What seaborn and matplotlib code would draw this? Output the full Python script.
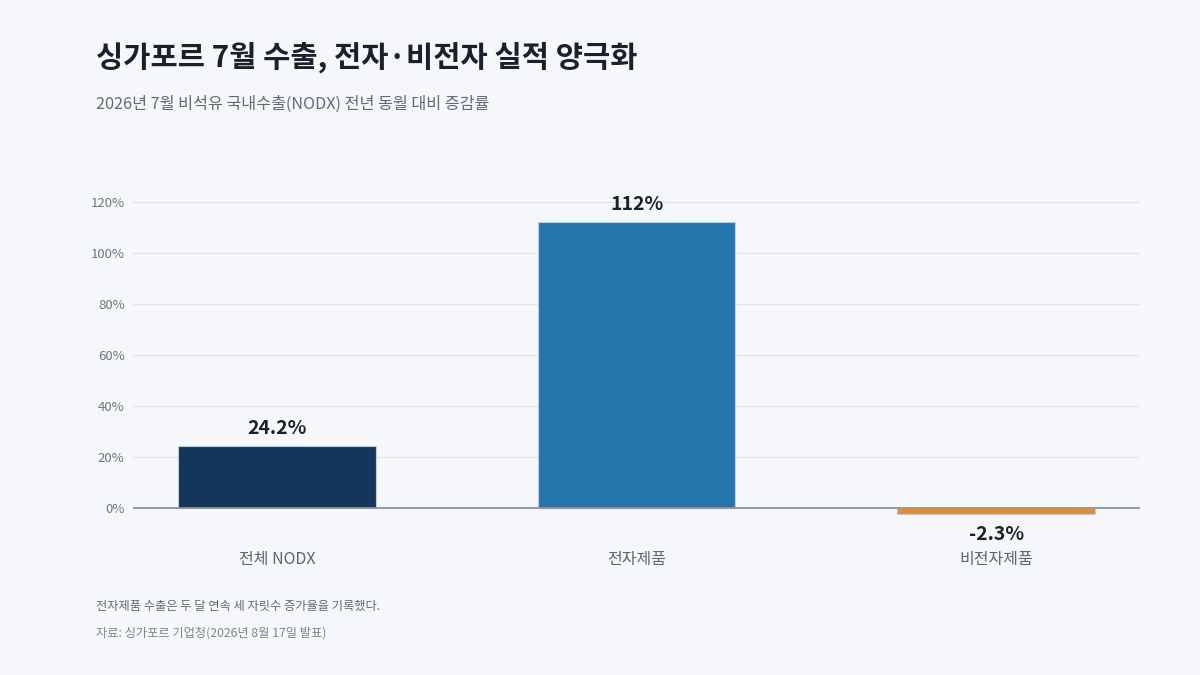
import matplotlib
matplotlib.use("Agg")
import matplotlib.pyplot as plt
import seaborn as sns
import pandas as pd

categories = ["전체 NODX", "전자제품", "비전자제품"]
values = [24.2, 112, -2.3]
value_labels = ["24.2%", "112%", "-2.3%"]
bar_colors = ["#13365a", "#2475ab", "#e88a2e"]
y_ticks = [0, 20, 40, 60, 80, 100, 120]

title = "싱가포르 7월 수출, 전자·비전자 실적 양극화"
subtitle = "2026년 7월 비석유 국내수출(NODX) 전년 동월 대비 증감률"
note = "전자제품 수출은 두 달 연속 세 자릿수 증가율을 기록했다."
source = "자료: 싱가포르 기업청(2026년 8월 17일 발표)"

bg = "#f5f7fa"

sns.set_theme(style="white")
plt.rcParams["font.family"] = ["Noto Sans CJK KR", "DejaVu Sans"]

df = pd.DataFrame({"category": categories, "value": values})

fig = plt.figure(figsize=(12, 6.75), dpi=100, facecolor=bg)
ax = fig.add_axes([133 / 1200, 1 - 516 / 675, (1140 - 133) / 1200, (516 - 190) / 675])
ax.set_facecolor(bg)

sns.barplot(data=df, x="category", y="value", hue="category", palette=bar_colors,
            saturation=1, width=0.55, legend=False, ax=ax,
            edgecolor="#c5cdd6", linewidth=0.8, zorder=3)

ax.set_xlim(-0.4, 2.4)
ax.set_ylim(-3.1, 124.7)
ax.set_yticks(y_ticks)
ax.set_yticklabels([f"{t}%" for t in y_ticks])
ax.grid(axis="y", color="#e1e5ea", linewidth=0.9, zorder=0)
ax.axhline(0, color="#8a94a0", linewidth=1.3, zorder=4)
for s in ax.spines.values():
    s.set_visible(False)
ax.tick_params(axis="y", length=0, labelsize=9.5, labelcolor="#6b7785", pad=6)
ax.tick_params(axis="x", length=0, labelsize=11.5, labelcolor="#5a6675", pad=25)
ax.set_xlabel("")
ax.set_ylabel("")

for i, (v, lab) in enumerate(zip(values, value_labels)):
    if v >= 0:
        ax.annotate(lab, (i, v), xytext=(0, 6), textcoords="offset points",
                    ha="center", va="bottom", fontsize=14, fontweight="bold",
                    color="#1a202c")
    else:
        ax.annotate(lab, (i, v), xytext=(0, -8), textcoords="offset points",
                    ha="center", va="top", fontsize=14, fontweight="bold",
                    color="#1a202c")

fig.text(96 / 1200, 1 - 57 / 675, title, fontsize=21.3, fontweight="bold",
         color="#1a202c", va="center", ha="left")
fig.text(96 / 1200, 1 - 104 / 675, subtitle, fontsize=11.7, color="#5f6b7a",
         va="center", ha="left")
fig.text(96 / 1200, 1 - 606 / 675, note, fontsize=8.8, color="#5f6b7a",
         va="center", ha="left")
fig.text(96 / 1200, 1 - 633 / 675, source, fontsize=8.8, color="#7a8594",
         va="center", ha="left")

fig.savefig("out.png", dpi=100, facecolor=bg)
